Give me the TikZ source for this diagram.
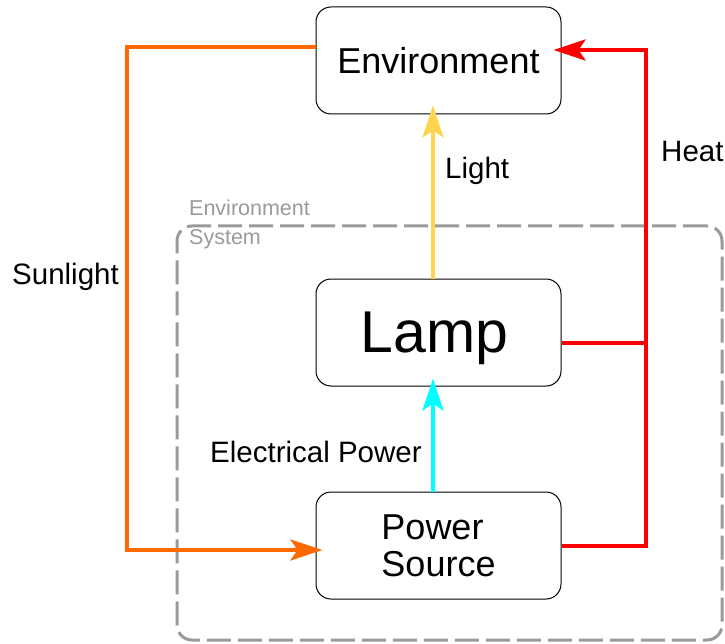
\documentclass[tikz,border=0pt]{standalone}
\usepackage{fontspec}
\setmainfont{Liberation Sans}
\usetikzlibrary{arrows.meta,calc}
\definecolor{sysgray}{HTML}{9A9A9A}
\definecolor{sunorange}{HTML}{FF6A00}
\definecolor{heatred}{HTML}{FF0000}
\definecolor{lightyellow}{HTML}{FFD54F}
\definecolor{elcyan}{HTML}{00FFFF}
\begin{document}
\begin{tikzpicture}[x=1pt,y=-1pt,
  box/.style={draw=black, line width=1pt, fill=white, rounded corners=15pt,
    minimum width=245pt, minimum height=107pt, inner sep=0pt, align=center},
  bigfont/.style={font=\fontsize{36}{37}\selectfont},
  flowline/.style={line width=4pt},
  flowtip/.style={-{Stealth[length=32pt,width=21pt,inset=7pt]}},
  lbl/.style={font=\fontsize{29.5}{34}\selectfont, inner sep=0pt},
  syslbl/.style={font=\fontsize{21.5}{24}\selectfont, text=sysgray, inner sep=0pt, anchor=base west},
]
\useasboundingbox (0,0) rectangle (725,644);
% system boundary
\node[draw=sysgray, line width=3pt, dash pattern=on 24pt off 7pt, rounded corners=15pt,
  minimum width=545pt, minimum height=414pt, inner sep=0pt] (sys) at (449.5,433) {};
\node[syslbl] (syst1) at (189,216) {Environment};
\node[syslbl] (syst2) at (189,245) {System};
% boxes
\node[box, bigfont] (env) at (438.5,60.5) {Environment};
\node[box, font=\fontsize{59}{60}\selectfont, text depth=0pt] (lamp) at (438.5,332.5) {Lamp\hspace{8pt}};
\node[box, bigfont, align=left] (pwr) at (438.5,545.5) {Power\\Source};
% connector corners
\coordinate (so1) at (127,47);
\coordinate (so2) at (127,550);
\coordinate (hj) at (646,343);
\coordinate (hc) at (646,546);
\coordinate (ht) at (646,50);
% sunlight
\draw[flowline, sunorange, flowtip] (env.west |- so1) -- (so1) -- (so2) -- ($(pwr.west |- so2)+(7,0)$);
% heat
\draw[flowline, heatred] (lamp.east |- hj) -- (hj);
\draw[flowline, heatred, flowtip] (pwr.east |- hc) -- (hc) -- (ht) -- ($(env.east |- ht)+(-8,0)$);
% light
\draw[flowline, lightyellow, flowtip] ($(lamp.north)+(-5.5,0)$) -- ($(env.south)+(-5.5,-9)$);
% electrical power
\draw[flowline, elcyan, flowtip] ($(pwr.north)+(-5.5,0)$) -- ($(lamp.south)+(-5.5,-8)$);
% labels
\node[lbl, anchor=base west] (lheat) at (661,162) {Heat};
\node[lbl, anchor=base west] (llight) at (445,179) {Light};
\node[lbl, anchor=base west] (lsun) at (12,284) {Sunlight};
\node[lbl, anchor=base west] (lel) at (210,462) {Electrical Power};
\end{tikzpicture}
\end{document}
